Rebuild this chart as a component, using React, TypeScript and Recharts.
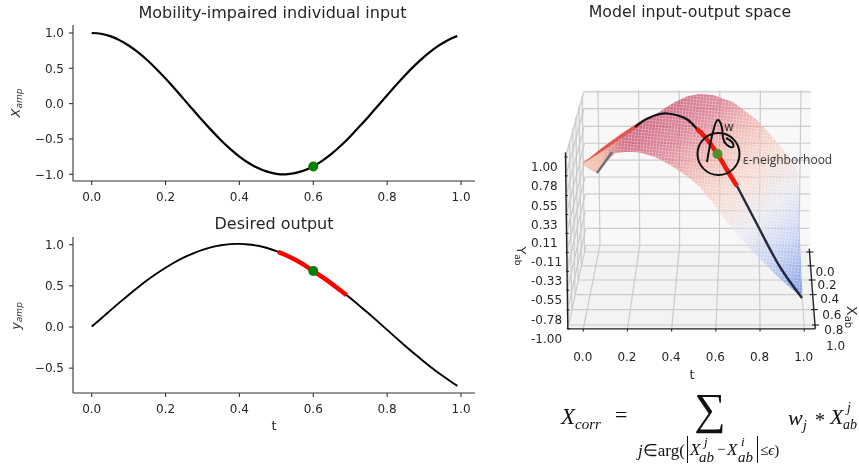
import React from "react";
import { ComposedChart, Line, Area, XAxis, YAxis } from "recharts";

// ---------- 2D panels ----------
const timeTicks = [0, 0.2, 0.4, 0.6, 0.8, 1.0];
const inputTicks = [-1, -0.5, 0, 0.5, 1];
const outputTicks = [-0.5, 0, 0.5, 1];
const curveT = [0, 0.025, 0.05, 0.075, 0.1, 0.125, 0.15, 0.175, 0.2, 0.225, 0.25, 0.275, 0.3, 0.325, 0.35, 0.375, 0.4, 0.425, 0.45, 0.475, 0.5, 0.525, 0.55, 0.575, 0.6, 0.625, 0.65, 0.675, 0.7, 0.725, 0.75, 0.775, 0.8, 0.825, 0.85, 0.875, 0.9, 0.925, 0.95, 0.975, 0.99];
const inputV = [1, 0.989, 0.955, 0.899, 0.823, 0.728, 0.617, 0.491, 0.355, 0.21, 0.06, -0.09, -0.239, -0.382, -0.518, -0.641, -0.749, -0.84, -0.912, -0.963, -0.993, -1, -0.983, -0.947, -0.886, -0.806, -0.708, -0.593, -0.464, -0.325, -0.181, -0.031, 0.12, 0.268, 0.41, 0.542, 0.662, 0.769, 0.855, 0.924, 0.955];
const outputV = [0.005, 0.1, 0.199, 0.296, 0.39, 0.481, 0.567, 0.647, 0.72, 0.787, 0.846, 0.896, 0.938, 0.971, 0.993, 1.007, 1.01, 1.003, 0.987, 0.96, 0.922, 0.875, 0.819, 0.754, 0.68, 0.605, 0.524, 0.44, 0.351, 0.259, 0.163, 0.065, -0.035, -0.135, -0.233, -0.329, -0.421, -0.51, -0.593, -0.671, -0.715];
const redT = [0.505, 0.525, 0.55, 0.575, 0.6, 0.625, 0.65, 0.675, 0.69];
const redV = [0.913, 0.875, 0.819, 0.754, 0.68, 0.605, 0.524, 0.44, 0.385];
const inputDot = [{ t: 0.6, v: -0.89 }];
const outputDot = [{ t: 0.6, v: 0.68 }];
const inputData = curveT.map((t, i) => ({ t, v: inputV[i] }));
const outputData = curveT.map((t, i) => ({ t, v: outputV[i] }));
const redData = redT.map((t, i) => ({ t, v: redV[i] }));

// ---------- 3D panel ----------
const tTicks3d = [0, 0.2, 0.4, 0.6, 0.8, 1.0];
const xabTicks = [0, 0.2, 0.4, 0.6, 0.8, 1.0];
const yabTicks = [1, 0.78, 0.55, 0.33, 0.11, -0.11, -0.33, -0.55, -0.78, -1];
// Surface outline and curves, given in the projected plane of the 3D view
const surfX = [582, 590, 597, 606, 615, 625, 635, 642, 655, 665, 675, 688, 700, 713, 733, 757, 777, 793, 798, 802];
const surfUpper = [164, 158, 152, 145, 139, 132, 125, 121, 115, 108, 102, 96, 94, 95, 102, 120, 142, 162, 172, 298];
const surfLower = [164, 169, 173, 162, 153, 152, 152, 153, 157, 162, 168, 177, 187, 203, 230, 256, 276, 290, 294, 298];
const wedgeX = [582, 600, 620, 640];
const wedgeUp = [164, 149.5, 134.5, 121.5];
const wedgeLo = [164, 153, 139, 126];
const fringeX = [582, 590, 597, 606, 615, 625];
const fringeUp = [164, 159, 154, 148, 142, 135];
const fringeLo = [164, 169, 173, 162, 153, 152];
const grayPath = [[597, 173], [605, 162], [612, 152]];
const blackPath = [[635, 127], [643, 121], [652, 116.5], [660, 114], [668, 113.5], [678, 115.5], [688, 120], [697, 129]];
const redPath = [[697, 129], [705, 137], [717.5, 154], [727, 170], [737, 186]];
const tailPath = [[737, 186], [760, 230], [780, 267], [802, 298]];
const scribble = [[707, 162], [710, 145], [714, 128], [718, 120], [722, 128], [723, 138], [727, 145], [733, 147], [732, 142], [726, 138]];
const neighborhood = [{ x: 718.5, y: 154 }];
const queryPoint = [{ x: 717.5, y: 154 }];
const xabOffsetX = [15.5, 16.5, 18, 19, 20, 20.5];
const xabOffsetY = [19.7, 19.2, 19, 20, 20.4, 21];

type P = { x: number; y: number };
const project = (t: number, a: number, h: number): P => {
  const xb = 600 + 199 * t;
  const xf = 584 + 220 * t;
  const fa = (a + 0.1) / 1.1;
  const x = xb + (xf - xb) * fa + (t - 0.5) * ((h + 1) / 2) * 4;
  const base = 252 + 68 * a + 5 * a * a;
  const s = 76.7 + (9.3 * (a + 0.1)) / 1.15;
  return { x, y: base - (h + 1) * s };
};
const pts = (arr: number[][]): P[] => arr.map(([x, y]) => ({ x, y }));
const T0 = -0.07, T1 = 1.05, A0 = -0.1, A1 = 1.05, H0 = -1, H1 = 1.02;

const gridLines: P[][] = [
  ...tTicks3d.map((t) => [project(t, A0, H0), project(t, A0, H1)]),
  ...yabTicks.map((h) => [project(T0, A0, h), project(T1, A0, h)]),
  ...tTicks3d.map((t) => [project(t, A0, H0), project(t, A1, H0)]),
  ...xabTicks.map((a) => [project(T0, a, H0), project(T1, a, H0)]),
  ...xabTicks.map((a) => [project(T0, a, H0), project(T0, a, H1)]),
  ...yabTicks.map((h) => [project(T0, A0, h), project(T0, A1, h)]),
];
const spines: P[][] = [
  [project(T0, A1, H0), project(T1, A1, H0)],
  [project(T0, A1, H0), project(T0, A1, 1.05)],
  [project(T1, -0.05, H0), project(T1, A1, H0)],
];
const tickMarks: P[][] = [
  ...tTicks3d.map((t) => {
    const p = project(t, A1, H0);
    return [p, { x: p.x, y: p.y + 2.5 }];
  }),
  ...xabTicks.map((a) => {
    const p = project(T1, a, H0);
    return [{ x: p.x - 3, y: p.y }, { x: p.x + 4, y: p.y }];
  }),
  ...yabTicks.map((h) => {
    const p = project(T0, A1, h);
    return [{ x: p.x - 1, y: p.y }, { x: p.x + 2, y: p.y }];
  }),
];
const tLabels = tTicks3d.map((t) => {
  const p = project(t, A1, H0);
  return { x: p.x - 0.5, y: p.y + 28, label: t.toFixed(1) };
});
const xabLabels = xabTicks.map((a, i) => {
  const p = project(T1, a, H0);
  return { x: p.x + xabOffsetX[i], y: p.y + xabOffsetY[i], label: a.toFixed(1), anchor: "middle" };
});
const yabLabels = yabTicks.map((h) => {
  const p = project(T0, A1, h);
  return { x: 531, y: p.y + 10, label: h.toFixed(2), anchor: "start" };
});

const W3 = 344, H3 = 320, X3 = 515, Y3 = 80;
const FONT = "'DejaVu Sans', sans-serif";

const axes3d = [
  <XAxis key="x" hide type="number" dataKey="x" domain={[X3, X3 + W3]} allowDataOverflow />,
  <YAxis key="y" hide type="number" domain={[Y3, Y3 + H3]} reversed allowDataOverflow />,
];
const layer = { position: "absolute" as const, left: X3, top: Y3 };
const zero = { top: 0, right: 0, bottom: 0, left: 0 };

const textDot = (size: number) => (p: any) => (
  <text key={p.index} x={p.cx} y={p.cy} fontFamily={FONT} fontSize={size} fill="#262626" textAnchor={p.payload.anchor || "middle"} dominantBaseline="central">
    {p.payload.label}
  </text>
);

const plain = (key: string, data: P[], stroke: string, w: number) => (
  <Line key={key} data={data} dataKey="y" stroke={stroke} strokeWidth={w} dot={false} activeDot={false} isAnimationActive={false} strokeLinecap="butt" />
);

function Txt({ x, y, size, children, italic, rot, color, family, anchor }: any) {
  return (
    <div
      style={{
        position: "absolute", left: x, top: y, fontSize: size, lineHeight: 1, whiteSpace: "nowrap",
        fontStyle: italic ? "italic" : "normal", color: color || "#262626", fontFamily: family || FONT,
        transform: `translate(${anchor === "start" ? "0" : "-50%"},-50%)${rot ? ` rotate(${rot}deg)` : ""}`,
      }}
    >
      {children}
    </div>
  );
}

const fmt = (v: number) => v.toFixed(1).replace("-", "\u2212");

function Panel({ top, height, marginTop, xHeight, yDomain, yTicks, line, lineW, dot, red }: any) {
  const tick = { fontFamily: FONT, fontSize: 12, fill: "#262626" };
  const axisLine = { stroke: "#333", strokeWidth: 1.1 };
  return (
    <div style={{ position: "absolute", left: 0, top }}>
      <ComposedChart width={490} height={height} margin={{ top: marginTop, right: 15, bottom: 0, left: 0 }}>
        <XAxis type="number" dataKey="t" domain={[-0.0506, 1.0379]} ticks={timeTicks} tickFormatter={fmt} allowDataOverflow height={xHeight} tick={tick} tickSize={4} tickMargin={7} axisLine={axisLine} tickLine={axisLine} interval={0} />
        <YAxis type="number" domain={yDomain} ticks={yTicks} tickFormatter={fmt} allowDataOverflow width={73} tick={tick} tickSize={4} tickMargin={5} axisLine={axisLine} tickLine={axisLine} interval={0} />
        <Line data={line} dataKey="v" stroke="#000" strokeWidth={lineW} type="natural" dot={false} activeDot={false} isAnimationActive={false} />
        {red && <Line data={red} dataKey="v" stroke="#f00" strokeWidth={4.5} type="natural" dot={false} activeDot={false} isAnimationActive={false} />}
        <Line data={dot} dataKey="v" stroke="none" dot={{ r: 5, fill: "#008000", stroke: "#008000", strokeWidth: 0 }} activeDot={false} isAnimationActive={false} />
      </ComposedChart>
    </div>
  );
}

const Amp = ({ sym }: { sym: string }) => (
  <span>
    <i>{sym}</i>
    <i style={{ fontSize: 9, position: "relative", top: 2 }}>amp</i>
  </span>
);

export default function App() {
  const band = (xs: number[], a: number[], b: number[]) => xs.map((x, i) => ({ x, r: [a[i], b[i]] }));
  const surf = band(surfX, surfUpper, surfLower);
  const wedge = band(wedgeX, wedgeUp, wedgeLo);
  const fringe = band(fringeX, fringeUp, fringeLo);
  const paneBack = [{ x: 584, r: [90, 245] }, { x: 811, r: [90, 245] }];
  const paneLeft = [{ x: 566, r: [152, 152] }, { x: 569, r: [142, 328] }, { x: 584, r: [90, 259] }];
  const paneFloor = [{ x: 569, r: [328, 329] }, { x: 587, r: [245, 329] }, { x: 807, r: [245, 329] }, { x: 816, r: [329, 329] }];
  const area = (k: string, data: any[], fill: string, op = 1) => (
    <Area key={k} data={data} dataKey="r" stroke="none" fill={fill} fillOpacity={op} type="linear" dot={false} activeDot={false} isAnimationActive={false} />
  );
  return (
    <div style={{ position: "absolute", left: 0, top: 0, width: 859, height: 465, overflow: "hidden", background: "#fff", filter: "blur(0.5px)" }}>
      <Txt x={272.5} y={13} size={16}>Mobility-impaired individual input</Txt>
      <Txt x={274} y={224} size={16}>Desired output</Txt>
      <Txt x={690} y={12} size={15.8}>Model input-output space</Txt>
      <Txt x={15} y={103} size={13} rot={-90} color="#333"><Amp sym="X" /></Txt>
      <Txt x={15} y={316} size={13} rot={-90} color="#333"><Amp sym="y" /></Txt>
      <Txt x={274} y={425} size={13}>t</Txt>

      <Panel top={0} height={215} marginTop={25} xHeight={34} yDomain={[-1.095, 1.113]} yTicks={inputTicks} line={inputData} lineW={2.2} dot={inputDot} />
      <Panel top={210} height={230} marginTop={27} xHeight={47} yDomain={[-0.802, 1.0936]} yTicks={outputTicks} line={outputData} lineW={1.9} dot={outputDot} red={redData} />

      {/* 3D panes, grid */}
      <div style={layer}>
        <ComposedChart width={W3} height={H3} margin={zero}>
          {axes3d}
          {area("pb", paneBack, "#f8f8f8")}
          {area("pl", paneLeft, "#f2f2f2")}
          {area("pf", paneFloor, "#f3f3f3")}
          {gridLines.map((g, i) => plain("g" + i, g, "#cbcbcb", 1.2))}
        </ComposedChart>
      </div>
      {/* 3D surface */}
      <div style={layer}>
        <ComposedChart width={W3} height={H3} margin={zero}>
          <defs>
            <linearGradient id="surfGrad" gradientUnits="userSpaceOnUse" x1={125} y1={30} x2={285} y2={210}>
              <stop offset="0" stopColor="#bf3a5c" stopOpacity={0.78} />
              <stop offset="0.2" stopColor="#cf4a66" stopOpacity={0.62} />
              <stop offset="0.36" stopColor="#ea8a7c" stopOpacity={0.5} />
              <stop offset="0.5" stopColor="#f4b8a2" stopOpacity={0.42} />
              <stop offset="0.66" stopColor="#dfdfec" stopOpacity={0.5} />
              <stop offset="0.82" stopColor="#adbff2" stopOpacity={0.62} />
              <stop offset="1" stopColor="#6f8fe8" stopOpacity={0.85} />
            </linearGradient>
            <linearGradient id="fringeGrad" gradientUnits="userSpaceOnUse" x1={67} y1={0} x2={110} y2={0}>
              <stop offset="0" stopColor="#f6cdb8" stopOpacity={1} />
              <stop offset="0.45" stopColor="#f6cdb8" stopOpacity={0.85} />
              <stop offset="1" stopColor="#f0b0a0" stopOpacity={0} />
            </linearGradient>
            <pattern id="meshPat" patternUnits="userSpaceOnUse" width={3.2} height={3.2} patternTransform="rotate(6)">
              <path d="M0 0H3.2M0 0V3.2" stroke="#ffffff" strokeOpacity={0.6} strokeWidth={0.9} fill="none" />
            </pattern>
          </defs>
          {axes3d}
          {area("s", surf, "url(#surfGrad)")}
          {area("m", surf, "url(#meshPat)")}
          {area("f", fringe, "url(#fringeGrad)")}
          {area("w", wedge, "#e4483a", 0.75)}
        </ComposedChart>
      </div>
      {/* 3D curves, annotations, labels */}
      <div style={layer}>
        <ComposedChart width={W3} height={H3} margin={zero}>
          {axes3d}
          {spines.map((g, i) => plain("sp" + i, g, "#222", 1.4))}
          {tickMarks.map((g, i) => plain("tm" + i, g, "#222", 1.1))}
          {plain("gp", pts(grayPath), "#6a7278", 2.4)}
          <Line data={pts(blackPath)} dataKey="y" stroke="#111" strokeWidth={2.2} type="natural" dot={false} activeDot={false} isAnimationActive={false} />
          <Line data={pts(tailPath)} dataKey="y" stroke="#26283c" strokeWidth={2.4} type="natural" dot={false} activeDot={false} isAnimationActive={false} />
          <Line data={pts(redPath)} dataKey="y" stroke="#f01808" strokeWidth={4.6} type="natural" dot={false} activeDot={false} isAnimationActive={false} />
          <Line data={neighborhood} dataKey="y" stroke="none" dot={{ r: 21, fill: "none", stroke: "#111", strokeWidth: 2 }} activeDot={false} isAnimationActive={false} />
          <Line data={pts(scribble)} dataKey="y" stroke="#111" strokeWidth={2} type="natural" dot={false} activeDot={false} isAnimationActive={false} />
          <Line data={queryPoint} dataKey="y" stroke="none" dot={{ r: 5, fill: "#4f9020", stroke: "none" }} activeDot={false} isAnimationActive={false} />
          <Line data={tLabels} dataKey="y" stroke="none" dot={textDot(12)} activeDot={false} isAnimationActive={false} />
          <Line data={xabLabels} dataKey="y" stroke="none" dot={textDot(12)} activeDot={false} isAnimationActive={false} />
          <Line data={yabLabels} dataKey="y" stroke="none" dot={textDot(12)} activeDot={false} isAnimationActive={false} />
        </ComposedChart>
      </div>
      <Txt x={729} y={127} size={12} color="#333">w</Txt>
      <Txt x={743} y={160} size={12} anchor="start" color="#333" family="'Open Sans', sans-serif">ε-neighborhood</Txt>
      <Txt x={692} y={374} size={13}>t</Txt>
      <Txt x={521} y={256} size={13} rot={90} color="#333">Y<span style={{ fontSize: 9, position: "relative", top: 2 }}>ab</span></Txt>
      <Txt x={852} y={317} size={14.5} rot={90} color="#333">X<span style={{ fontSize: 10, position: "relative", top: 2 }}>ab</span></Txt>

      <Formula />
    </div>
  );
}

function Formula() {
  const F = "'Liberation Serif', serif";
  const sub = { fontSize: 15, position: "relative" as const, top: 5 };
  const s = (x: number, y: number, size: number, body: any, italic = true) => (
    <Txt x={x} y={y} size={size} italic={italic} anchor="start" color="#111" family={F}>{body}</Txt>
  );
  const bar = (x: number) => <div style={{ position: "absolute", left: x, top: 436, width: 1.2, height: 27, background: "#111" }} />;
  return (
    <>
      {s(561, 416, 23, <>X<span style={sub}>corr</span></>)}
      {s(615, 415, 22, "=", false)}
      <Txt x={710} y={410} size={44} color="#111" family={F}>∑</Txt>
      {s(788, 418, 22, <>w<span style={sub}>j</span></>)}
      {s(815, 420, 20, "*", false)}
      {s(830, 417, 22, "X")}
      {s(847, 408, 14, "j")}
      {s(843, 425, 14, "ab")}

      {s(638, 450, 17, <><i>j</i><span style={{ fontStyle: "normal" }}>∈arg(</span></>)}
      {bar(687)}
      {s(690, 449, 17, "X")}
      {s(704, 441, 13, "j")}
      {s(699, 457, 15, "ab")}
      {s(717, 449, 15, "−", false)}
      {s(727, 449, 17, "X")}
      {s(741, 441, 13, "i")}
      {s(738, 457, 15, "ab")}
      {bar(757)}
      {s(760, 450, 15, <><span style={{ fontStyle: "normal" }}>≤</span>ϵ<span style={{ fontStyle: "normal" }}>)</span></>)}
    </>
  );
}
